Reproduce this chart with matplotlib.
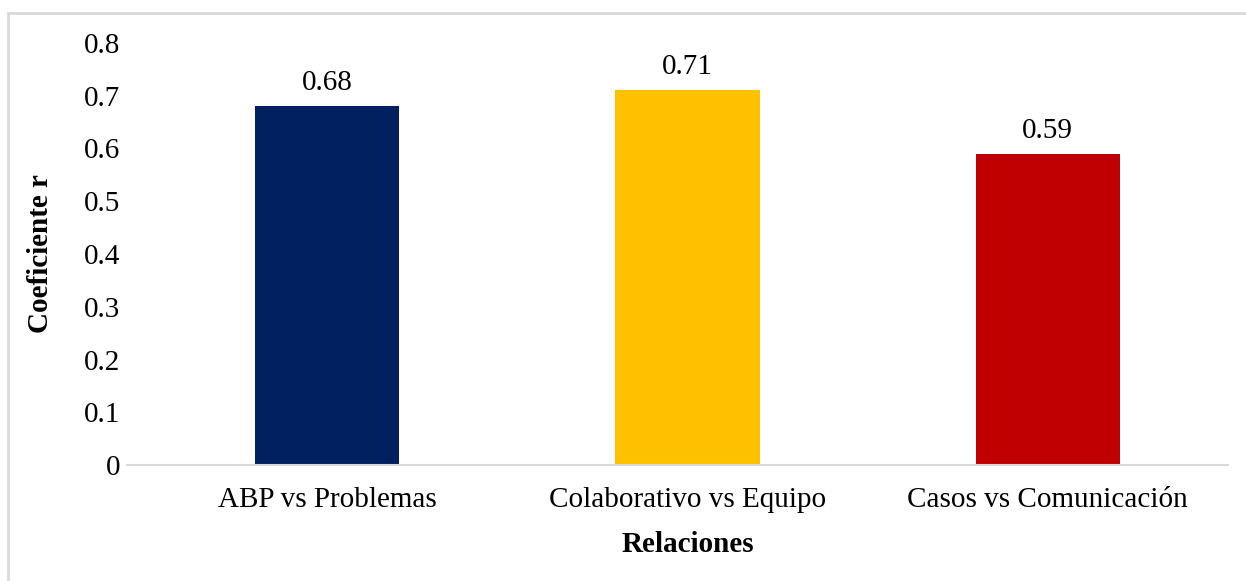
import matplotlib
matplotlib.use("Agg")
import matplotlib.pyplot as plt
from matplotlib.patches import Rectangle

categories = ["ABP vs Problemas", "Colaborativo vs Equipo", "Casos vs Comunicación"]
values = [0.68, 0.71, 0.59]
colors = ["#002060", "#FFC000", "#C00000"]
yticks = [0, 0.1, 0.2, 0.3, 0.4, 0.5, 0.6, 0.7, 0.8]
ytick_labels = ["0", "0.1", "0.2", "0.3", "0.4", "0.5", "0.6", "0.7", "0.8"]

plt.rcParams["font.family"] = ["Liberation Serif", "DejaVu Serif"]

W, H = 1246, 581
FS = 21
fig = plt.figure(figsize=(W / 100, H / 100), dpi=100)
fig.patch.set_facecolor("white")

# outer light border (cut off at right and bottom)
fig.add_artist(Rectangle((8 / W, -0.05), 1.1, 1 - 13 / H + 0.05,
                         transform=fig.transFigure, fill=False,
                         edgecolor="#D9D9D9", linewidth=2))

ax = fig.add_axes([147 / W, 1 - 465 / H, (1228 - 147) / W, (465 - 43) / H])
x = range(len(categories))
ax.bar(x, values, width=0.40, color=colors, zorder=2)
for xi, v in zip(x, values):
    ax.text(xi, v + 0.019, f"{v:.2f}", ha="center", va="bottom", fontsize=FS)

ax.set_xlim(-0.5, len(categories) - 0.5)
ax.set_ylim(0, 0.8)
ax.set_yticks(yticks)
ax.set_yticklabels(ytick_labels, fontsize=FS)
ax.set_xticks(list(x))
ax.set_xticklabels(categories, fontsize=FS)
ax.tick_params(axis="both", length=0)
ax.tick_params(axis="y", pad=19.5)
ax.tick_params(axis="x", pad=16)
for s in ["top", "right", "left"]:
    ax.spines[s].set_visible(False)
ax.spines["bottom"].set_color("#D9D9D9")
ax.spines["bottom"].set_linewidth(1.5)
ax.spines["bottom"].set_bounds(-0.5 - 20 / 360, len(categories) - 0.5)
ax.set_facecolor("none")

ax.set_xlabel("Relaciones", fontsize=FS, fontweight="bold", labelpad=13)
ax.set_ylabel("Coeficiente r", fontsize=FS, fontweight="bold", labelpad=21)

fig.savefig("out.png", dpi=100)
